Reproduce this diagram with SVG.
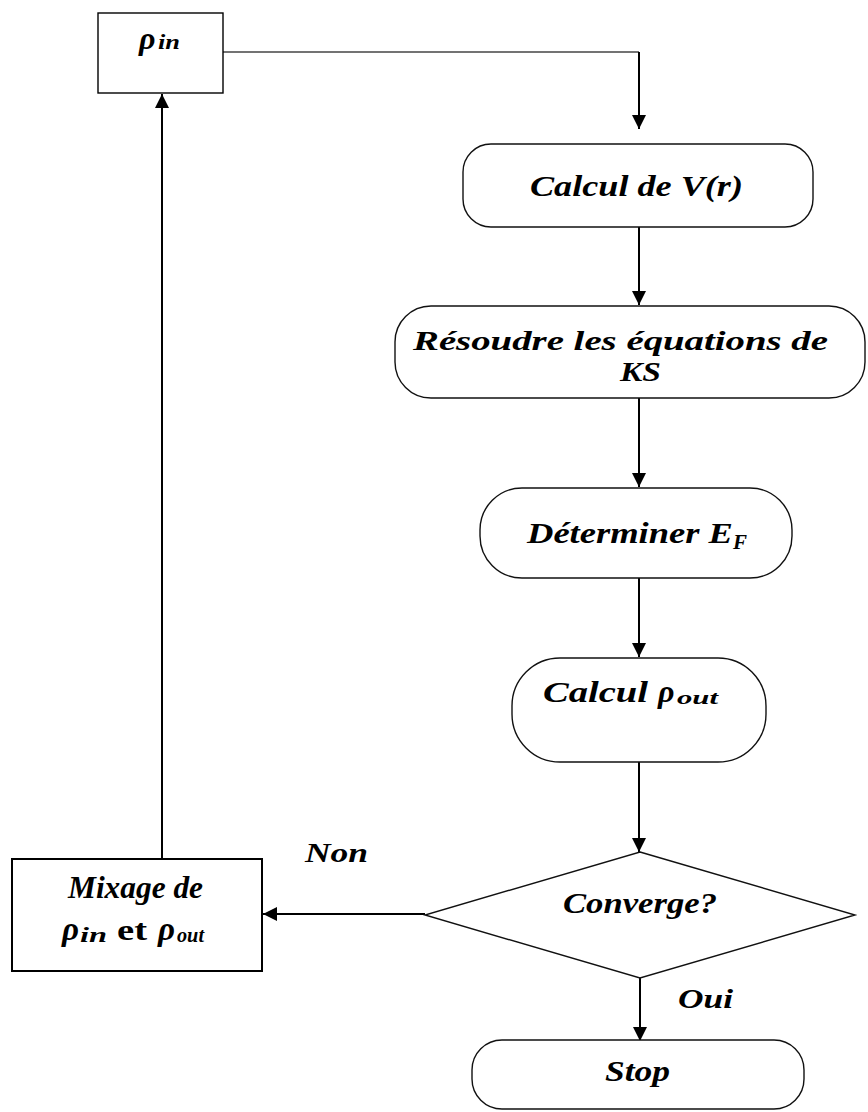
<svg xmlns="http://www.w3.org/2000/svg" width="868" height="1112" viewBox="0 0 868 1112">
<style>
.box{fill:#fff;stroke:#111;stroke-width:1.4}
.sq{fill:#fff;stroke:#000;stroke-width:2}
.t{font-family:"Liberation Serif","Times New Roman",serif;font-weight:bold;font-style:italic;fill:#000}
.up{font-style:normal}
.c{fill:none;stroke:#000;stroke-width:2}
.thin{stroke:#444;stroke-width:1.5}
</style>
<defs>
<marker id="ah" markerUnits="userSpaceOnUse" markerWidth="14" markerHeight="14" viewBox="0 0 14 14" refX="14" refY="7" orient="auto">
<path d="M0,0 L14,7 L0,14 Z" fill="#000"/>
</marker>
</defs>
<rect width="868" height="1112" fill="#fff"/>
<g id="connectors">
<path class="c thin" d="M223,52 H639"/>
<path class="c" d="M639,52 V129" marker-end="url(#ah)"/>
<path class="c" d="M639,227 V305" marker-end="url(#ah)"/>
<path class="c" d="M639,398 V487" marker-end="url(#ah)"/>
<path class="c" d="M639,578 V657" marker-end="url(#ah)"/>
<path class="c" d="M639,762 V852" marker-end="url(#ah)"/>
<path class="c" d="M640,978 V1041" marker-end="url(#ah)"/>
<path class="c" d="M425,914 H263" marker-end="url(#ah)"/>
<path class="c" d="M162,859 V94" marker-end="url(#ah)"/>
</g>
<g id="rho_in">
<rect class="sq" x="98" y="13" width="125" height="80" style="stroke-width:1.4"/>
<text class="t" x="139" y="49" font-size="32">ρ</text>
<text class="t" x="158" y="49" font-size="20" textLength="22" lengthAdjust="spacingAndGlyphs">in</text>
</g>
<g id="calcul_v">
<rect class="box" x="463" y="144" width="350" height="83" rx="28" ry="28"/>
<text class="t" x="530" y="196" font-size="29" textLength="213" lengthAdjust="spacingAndGlyphs">Calcul de V(r)</text>
</g>
<g id="resoudre">
<rect class="box" x="395" y="306" width="470" height="92" rx="36" ry="36"/>
<text class="t" x="413" y="350" font-size="28" textLength="415" lengthAdjust="spacingAndGlyphs">Résoudre les équations de</text>
<text class="t" x="620" y="381" font-size="28" textLength="41" lengthAdjust="spacingAndGlyphs">KS</text>
</g>
<g id="determiner">
<rect class="box" x="480" y="488" width="312" height="90" rx="42" ry="42"/>
<text class="t" x="527" y="543" font-size="29" textLength="206" lengthAdjust="spacingAndGlyphs">Déterminer E</text>
<text class="t" x="733" y="549" font-size="20" textLength="14" lengthAdjust="spacingAndGlyphs">F</text>
</g>
<g id="calcul_rho">
<rect class="box" x="512" y="658" width="254" height="104" rx="48" ry="48"/>
<text class="t" x="543" y="702" font-size="29" textLength="105" lengthAdjust="spacingAndGlyphs">Calcul</text>
<text class="t" x="658" y="702" font-size="32">ρ</text>
<text class="t" x="677" y="704" font-size="19" textLength="41" lengthAdjust="spacingAndGlyphs">out</text>
</g>
<g id="converge">
<polygon class="box" points="640,852 855,915 640,978 425,915"/>
<text class="t" x="563" y="913" font-size="29" textLength="154" lengthAdjust="spacingAndGlyphs">Converge?</text>
</g>
<g id="stop">
<rect class="box" x="472" y="1040" width="332" height="69" rx="30" ry="30"/>
<text class="t" x="605" y="1081" font-size="29" textLength="65" lengthAdjust="spacingAndGlyphs">Stop</text>
</g>
<g id="mixage">
<rect class="sq" x="12" y="859" width="250" height="112"/>
<text class="t" x="68" y="898" font-size="32" textLength="135" lengthAdjust="spacingAndGlyphs">Mixage de</text>
<text class="t" x="62" y="940" font-size="33">ρ</text>
<text class="t" x="80" y="942" font-size="21" textLength="27" lengthAdjust="spacingAndGlyphs">in</text>
<text class="t up" x="117" y="940" font-size="30" textLength="30" lengthAdjust="spacingAndGlyphs">et</text>
<text class="t" x="158" y="940" font-size="33">ρ</text>
<text class="t" x="177" y="942" font-size="21" textLength="27" lengthAdjust="spacingAndGlyphs">out</text>
</g>
<g id="labels">
<text class="t" x="305" y="862" font-size="27" textLength="63" lengthAdjust="spacingAndGlyphs">Non</text>
<text class="t" x="678" y="1008" font-size="27" textLength="55" lengthAdjust="spacingAndGlyphs">Oui</text>
</g>
</svg>
